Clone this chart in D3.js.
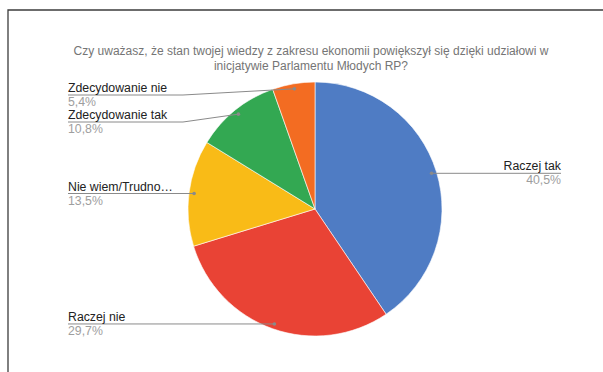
<!DOCTYPE html>
<html>
<head>
<meta charset="utf-8">
<script src="https://cdn.jsdelivr.net/npm/d3@7"></script>
<style>
  html, body { margin: 0; padding: 0; background: #fff; }
  svg { display: block; font-family: "Liberation Sans", Arial, sans-serif; }
</style>
</head>
<body>
<svg id="chart" width="603" height="372"></svg>
<script>
// Survey answers, in drawing order (clockwise from 12 o'clock)
const categories = ["Raczej tak", "Raczej nie", "Nie wiem/Trudno…", "Zdecydowanie tak", "Zdecydowanie nie"];
const values = [40.5, 29.7, 13.5, 10.8, 5.4];
const colors = ["#4f7cc4", "#e94335", "#f9bb17", "#33a852", "#f36c22"];
const titleLines = [
  "Czy uważasz, że stan twojej wiedzy z zakresu ekonomii powiększył się dzięki udziałowi w",
  "inicjatywie Parlamentu Młodych RP?"
];

const svg = d3.select("#chart");
const W = 603, H = 372;
const cx = 315, cy = 209, R = 127;

// Outer frame
svg.append("path")
  .attr("d", `M8,${H} L8,10 L${W},10`)
  .attr("fill", "none")
  .attr("stroke", "#3c3c3c")
  .attr("stroke-width", 1.3);

// Title
svg.append("text")
  .attr("x", 311)
  .attr("text-anchor", "middle")
  .attr("fill", "#757575")
  .attr("font-size", 12)
  .selectAll("tspan")
  .data(titleLines)
  .join("tspan")
  .attr("x", 311)
  .attr("y", (d, i) => 55 + i * 15)
  .text(d => d);

const pl = d3.formatLocale({ decimal: ",", thousands: " ", grouping: [3], currency: ["", " zł"] });
const fmt = pl.format(".1f");

const pie = d3.pie().sort(null).value(d => d.value);
const arcs = pie(categories.map((c, i) => ({ name: c, value: values[i], color: colors[i] })));
const arc = d3.arc().innerRadius(0).outerRadius(R);

const g = svg.append("g").attr("transform", `translate(${cx},${cy})`);
g.selectAll("path.slice")
  .data(arcs)
  .join("path")
  .attr("class", "slice")
  .attr("d", arc)
  .attr("fill", d => d.data.color)
  .attr("stroke", "#fff")
  .attr("stroke-width", 0.6);

// Leader anchor: mid-angle point just inside the rim
const anchorR = R * 0.96;
const labels = arcs.map(a => {
  const mid = (a.startAngle + a.endAngle) / 2;
  return {
    a,
    px: cx + anchorR * Math.sin(mid),
    py: cy - anchorR * Math.cos(mid),
    right: Math.sin(mid) > 0
  };
});

// Stack left-side labels top-down so they stay clear of the title and each other
const minTop = 95, gap = 27;
const leftLabels = labels.filter(l => !l.right).sort((p, q) => p.py - q.py);
let prev = -Infinity;
leftLabels.forEach(l => {
  l.ly = Math.max(l.py, prev + gap, minTop);
  prev = l.ly;
});
labels.filter(l => l.right).forEach(l => { l.ly = l.py; });

const leftX = 68, rightX = 561, bendX = 183;
const lg = svg.append("g");
labels.forEach(l => {
  const pts = l.right
    ? [[rightX, l.ly], [l.px, l.py]]
    : (Math.abs(l.ly - l.py) > 0.5
        ? [[leftX, l.ly], [bendX, l.ly], [l.px, l.py]]
        : [[leftX, l.ly], [l.px, l.py]]);
  lg.append("path")
    .attr("d", d3.line()(pts))
    .attr("fill", "none")
    .attr("stroke", "#8a8a8a")
    .attr("stroke-width", 1);
  lg.append("circle")
    .attr("cx", l.px).attr("cy", l.py).attr("r", 1.8)
    .attr("fill", "#8a8a8a");
  const tx = l.right ? rightX : leftX;
  const anchor = l.right ? "end" : "start";
  lg.append("text")
    .attr("x", tx).attr("y", l.ly - 3)
    .attr("text-anchor", anchor)
    .attr("font-size", 12.3)
    .attr("fill", "#222")
    .text(l.a.data.name);
  lg.append("text")
    .attr("x", tx).attr("y", l.ly + 11)
    .attr("text-anchor", anchor)
    .attr("font-size", 12.3)
    .attr("fill", "#9e9e9e")
    .text(fmt(l.a.data.value) + "%");
});
</script>
</body>
</html>
